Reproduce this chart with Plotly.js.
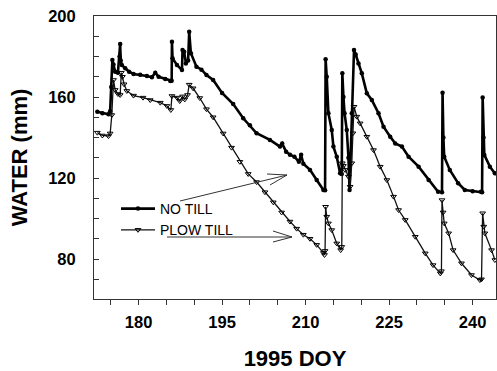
<!DOCTYPE html>
<html>
<head>
<meta charset="utf-8">
<script src="https://cdn.plot.ly/plotly-3.0.1.min.js"></script>
<style>html,body{margin:0;padding:0;background:#fff;}#chart{width:497px;height:371px;}</style>
</head>
<body>
<div id="chart"></div>
<script>
// ---- data ----
const noTillDay = [172.6,173.5,174.6,174.9,175.1,175.3,175.5,175.8,176.3,176.6,176.7,176.8,177.0,177.6,178.3,179.1,180.3,181.5,182.4,183.0,183.6,184.8,185.7,185.95,186.0,186.1,186.9,187.8,187.9,188.2,188.5,188.9,189.1,189.4,190.4,191.3,192.2,193.4,195.0,197.0,198.8,200.0,201.2,203.6,205.4,205.8,206.5,207.2,208.0,208.8,209.2,209.6,210.8,212.0,213.2,213.5,213.6,213.8,214.1,214.7,215.0,215.6,216.2,216.5,216.6,216.8,217.0,217.4,217.7,217.9,218.3,218.7,219.0,219.5,220.1,221.0,221.9,223.1,224.0,225.2,226.1,227.3,228.5,230.3,232.1,233.8,234.5,234.6,234.75,234.9,235.9,237.4,238.6,240.0,241.5,241.7,241.8,241.95,242.1,243.1,244.0];
const noTillVal = [152.7,152.0,151.5,153,165,178.3,176,172.5,172,180,186.2,178,175.8,174.2,172.5,171.4,171,170.4,169.7,172.0,170.0,168.9,167.9,168,187.3,179.1,175.8,173.3,183.2,182.4,176.6,178,192.2,181.6,175.0,173.5,170.9,168.4,162,156.5,149.5,146,142.1,138.8,135.5,137,133,131.5,130.5,128,131.5,127,124.0,119.0,114.1,114,178.6,170,152.0,143.7,135.5,130.5,122.3,122,171.7,160,152.0,143.7,130,114.1,152.0,183.2,181,176.6,171.7,161.8,158.5,152.0,145.3,140.4,137.1,135.5,130.5,125.6,119.0,113.2,113,162.1,140,130.5,124.0,117.4,114.1,113.5,113.2,113,159.8,140,131.4,125.6,122.3];

const plowDay = [172.6,173.5,174.6,174.9,175.2,175.5,175.8,176.3,176.7,176.9,177.1,177.4,177.9,179.1,180.8,182.1,183.9,185.1,185.8,186.0,186.9,187.4,187.9,188.3,188.8,189.1,189.8,191.0,192.2,193.4,195.2,196.7,198.2,199.7,201.2,202.7,204.2,205.7,207.2,208.4,209.6,210.8,212.0,213.2,213.4,213.5,213.6,213.8,214.1,214.7,215.6,216.3,216.5,216.6,216.8,217.1,217.7,218.0,218.3,218.5,218.7,219.2,219.8,221.0,222.2,223.4,224.6,225.8,226.7,227.9,229.7,231.5,232.9,234.2,234.4,234.5,234.7,234.9,235.7,236.5,238.0,239.8,241.3,241.6,241.8,242.0,242.2,243.4,244.0];
const plowVal = [142.4,141,140.7,142,151.1,168.4,163.5,161.5,161.0,172,170,166.3,163,160.7,159.7,158.5,157.2,155.6,153.6,160.5,159.7,158.0,160.3,158.8,161,166.1,164.3,159.5,154,150,142,135,128,122,118,113,108,103,98.5,95,92,90,87,83,82.0,84,105.8,100.9,97.6,94.3,87.7,84.4,86,127.3,126,124.0,120.7,115.7,127.3,142.1,155.2,150.3,147.0,140.4,133.8,125.6,119.0,110.8,104.2,99.3,91.0,82.8,77.0,72.9,74,109.1,103,97.6,92.7,84.4,77.9,72.1,69.6,70,102.6,96,92.7,84.4,79.5];

const seriesNames = ["NO TILL", "PLOW TILL"];
const xTickVals = [180,195,210,225,240];
const yTickVals = [80,120,160,200];

// ---- layout helpers (pixel -> paper) ----
const L = 94, R = 496, T = 16, B = 299;
const px = x => (x - L) / (R - L);
const py = y => (B - y) / (B - T);
function seg(x0,y0,x1,y1){
  return {type:'line', xref:'paper', yref:'paper', x0:px(x0), y0:py(y0), x1:px(x1), y1:py(y1),
          line:{color:'#333', width:1}};
}
const FONT = 'Liberation Sans, Arial, sans-serif';

const traces = [
  {x: noTillDay, y: noTillVal, name: seriesNames[0], type:'scatter', mode:'lines+markers',
   line:{color:'#000', width:2.6}, marker:{symbol:'circle', size:4.5, color:'#000'}},
  {x: plowDay, y: plowVal, name: seriesNames[1], type:'scatter', mode:'lines+markers',
   line:{color:'#111', width:1.3}, marker:{symbol:'triangle-down-open', size:5, color:'#000', line:{width:1}}}
];

const layout = {
  width: 497, height: 371,
  margin: {l: L, r: 497 - R, t: T, b: 371 - B},
  paper_bgcolor: '#fff', plot_bgcolor: '#fff',
  showlegend: true,
  legend: {x: px(116), y: py(193), xanchor:'left', yanchor:'top', bgcolor:'rgba(0,0,0,0)',
           itemwidth: 34,
           font:{family: FONT, size:14, color:'#000'}, tracegroupgap:0},
  xaxis: {range:[172, 244.2], tickvals: xTickVals, ticks:'outside', ticklen:5, tickcolor:'#333',
          minor:{dtick:5, tick0:0, ticks:'outside', ticklen:5, tickcolor:'#333'},
          showline:true, linecolor:'#333', linewidth:1, mirror:true, showgrid:false, zeroline:false,
          ticklabelstandoff: 3,
          tickfont:{family: FONT, size:16.5, color:'#000', weight:'bold'},
          title:{text:'1995 DOY', standoff: 32,
                 font:{family: FONT, size:22, color:'#000', weight:'bold'}}},
  yaxis: {range:[60.25, 200], tickvals: yTickVals, ticks:'inside', ticklen:5, tickcolor:'#333',
          minor:{dtick:10, tick0:0, ticks:'inside', ticklen:5, tickcolor:'#333'},
          showline:true, linecolor:'#333', linewidth:1, mirror:true, showgrid:false, zeroline:false,
          ticklabelstandoff: 14,
          tickfont:{family: FONT, size:16.5, color:'#000', weight:'bold'},
          title:{text:'WATER (mm)', standoff: 14,
                 font:{family: FONT, size:22, color:'#000', weight:'bold'}}},
  shapes: [
    seg(180,201,287,175), seg(267,174,287,175), seg(270,185,287,175),
    seg(167,237,292,237), seg(273,231,292,237), seg(273,242,292,237)
  ]
};

Plotly.newPlot('chart', traces, layout, {displayModeBar:false, staticPlot:true});
</script>
</body>
</html>
